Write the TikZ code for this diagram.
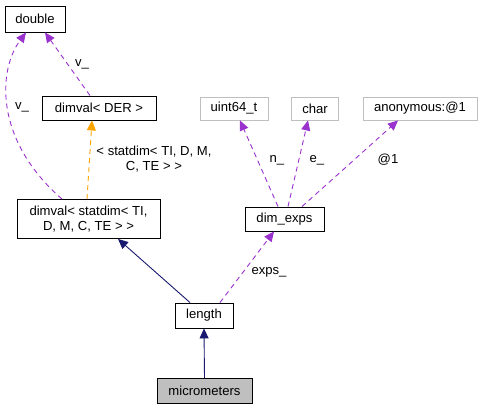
\documentclass[tikz,border=0pt]{standalone}
\usepackage{fontspec}
\setmainfont{Liberation Sans}
\usetikzlibrary{arrows.meta}
\definecolor{dpurple}{HTML}{9A32CD}
\definecolor{dorange}{HTML}{FFA500}
\definecolor{dnavy}{HTML}{191970}
\definecolor{lgray}{HTML}{BFBFBF}
\begin{document}
\begin{tikzpicture}[x=1pt,y=-1pt,
  every node/.style={font=\fontsize{13.1}{15}\selectfont, inner sep=0pt, align=center},
  cls/.style={draw=black, line width=0.9pt, fill=white},
  ext/.style={draw=lgray, line width=0.9pt, fill=white},
  cur/.style={draw=black, line width=0.9pt, fill=lgray},
  tip/.style={-{Triangle[length=10pt,width=9pt]}},
  usage/.style={tip, draw=dpurple, line width=0.9pt, dash pattern=on 5pt off 4pt},
  tmpl/.style={tip, draw=dorange, line width=0.9pt, dash pattern=on 5pt off 4pt},
  inh/.style={tip, draw=dnavy, line width=0.9pt},
  lbl/.style={fill=none}]
\useasboundingbox (0,0) rectangle (483,411);
\fill[white] (0,0) rectangle (483,411);
% nodes
\node[cls, minimum width=60pt, minimum height=26pt] (double) at (35,19) {double};
\node[cls, minimum width=114pt, minimum height=24pt] (dimder) at (99,108) {dimval< DER >};
\node[ext, minimum width=68pt, minimum height=23pt] (uint) at (234,108.5) {uint64\_t};
\node[ext, minimum width=47pt, minimum height=23pt] (char) at (315,108.5) {char};
\node[ext, minimum width=114pt, minimum height=23pt] (anon) at (420,108.5) {anonymous:@1};
\node[cls, minimum width=143pt, minimum height=39pt] (dimstat) at (88.5,219) {dimval< statdim< TI,\\D, M, C, TE > >};
\node[cls, minimum width=79pt, minimum height=24pt] (dimexps) at (284.5,219) {dim\_exps};
\node[cls, minimum width=58pt, minimum height=25pt] (length) at (204,315.5) {length};
\node[cur, minimum width=95pt, minimum height=25pt] (micro) at (204.5,391) {micrometers};
% edges
\draw[usage] ([xshift=-26.5pt]dimstat.north) .. controls (-6,140) and (-2,70) .. ([xshift=-9pt]double.south);
\draw[usage] ([xshift=-9pt]dimder.north) -- ([xshift=10pt]double.south);
\draw[tmpl] ([xshift=-1.5pt]dimstat.north) -- ([xshift=-7pt]dimder.south);
\draw[usage] ([xshift=-6.5pt]dimexps.north) -- ([xshift=6pt]uint.south);
\draw[usage] ([xshift=3.5pt]dimexps.north) -- ([xshift=-7pt]char.south);
\draw[usage] ([xshift=17.5pt]dimexps.north) -- ([xshift=-22pt]anon.south);
\draw[inh] ([xshift=-14pt]length.north) -- ([xshift=29.5pt]dimstat.south);
\draw[usage] ([xshift=16pt]length.north) -- ([xshift=-10.5pt]dimexps.south);
\draw[inh] (micro.north) -- (length.south);
% labels
\node[lbl] (l1) at (22,107) {v\_};
\node[lbl] (l2) at (82,64) {v\_};
\node[lbl] (l3) at (154,159) {< statdim< TI, D, M,\\C, TE > >};
\node[lbl] (l4) at (277,160) {n\_};
\node[lbl] (l5) at (317,160) {e\_};
\node[lbl] (l6) at (388,160) {@1};
\node[lbl] (l7) at (269,272) {exps\_};
\end{tikzpicture}
\end{document}
